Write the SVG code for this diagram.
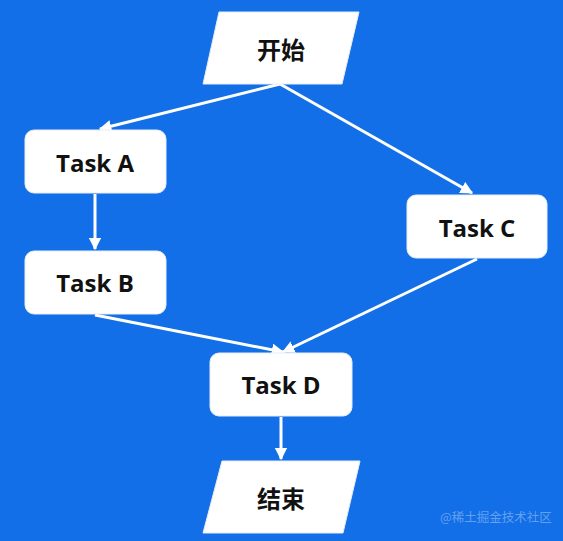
<svg xmlns="http://www.w3.org/2000/svg" width="563" height="541" viewBox="0 0 563 541">
<style>
.node{fill:#ffffff;stroke:#e6ecf5;stroke-width:1}
.lbl{font-family:"Open Sans","Noto Sans CJK SC",sans-serif;font-weight:bold;font-size:24px;fill:#111111;text-anchor:middle;dominant-baseline:central}
.cjk{font-family:"Noto Sans CJK SC",sans-serif;font-size:24px}
.edge{stroke:#ffffff;stroke-width:3;fill:none;marker-end:url(#arr)}
.wm{font-family:"Noto Sans CJK SC",sans-serif;font-size:12.5px;fill:#ffffff;fill-opacity:0.35}
</style>
<defs>
<marker id="arr" viewBox="0 0 10 10" refX="9" refY="5" markerWidth="4.2" markerHeight="4.2" orient="auto" markerUnits="strokeWidth">
<path d="M0,0 L10,5 L0,10 z" fill="#ffffff"/>
</marker>
</defs>
<rect width="563" height="541" fill="#126fe7"/>
<g id="connectors">
<line class="edge" x1="280" y1="84" x2="100" y2="129"/>
<line class="edge" x1="280" y1="84" x2="472" y2="193"/>
<line class="edge" x1="95" y1="194" x2="95" y2="249"/>
<line class="edge" x1="95" y1="315" x2="283" y2="352"/>
<line class="edge" x1="477" y1="259" x2="283" y2="352"/>
<line class="edge" x1="281" y1="417" x2="281" y2="459"/>
</g>
<g id="start">
<polygon class="node" points="219,12 359,12 342,84 203,84"/>
<text class="lbl cjk" x="281" y="48">开始</text>
</g>
<g id="taskA">
<rect class="node" x="25" y="130" width="141" height="63" rx="9"/>
<text class="lbl" x="95" y="162">Task A</text>
</g>
<g id="taskB">
<rect class="node" x="25" y="251" width="141" height="63" rx="9"/>
<text class="lbl" x="95" y="282">Task B</text>
</g>
<g id="taskC">
<rect class="node" x="407" y="195" width="140" height="63" rx="9"/>
<text class="lbl" x="477" y="227">Task C</text>
</g>
<g id="taskD">
<rect class="node" x="210" y="353" width="142" height="63" rx="9"/>
<text class="lbl" x="281" y="384">Task D</text>
</g>
<g id="end">
<polygon class="node" points="222,461 360,461 343,533 203,533"/>
<text class="lbl cjk" x="281" y="497">结束</text>
</g>
<text class="wm" x="440" y="522">@稀土掘金技术社区</text>
</svg>
